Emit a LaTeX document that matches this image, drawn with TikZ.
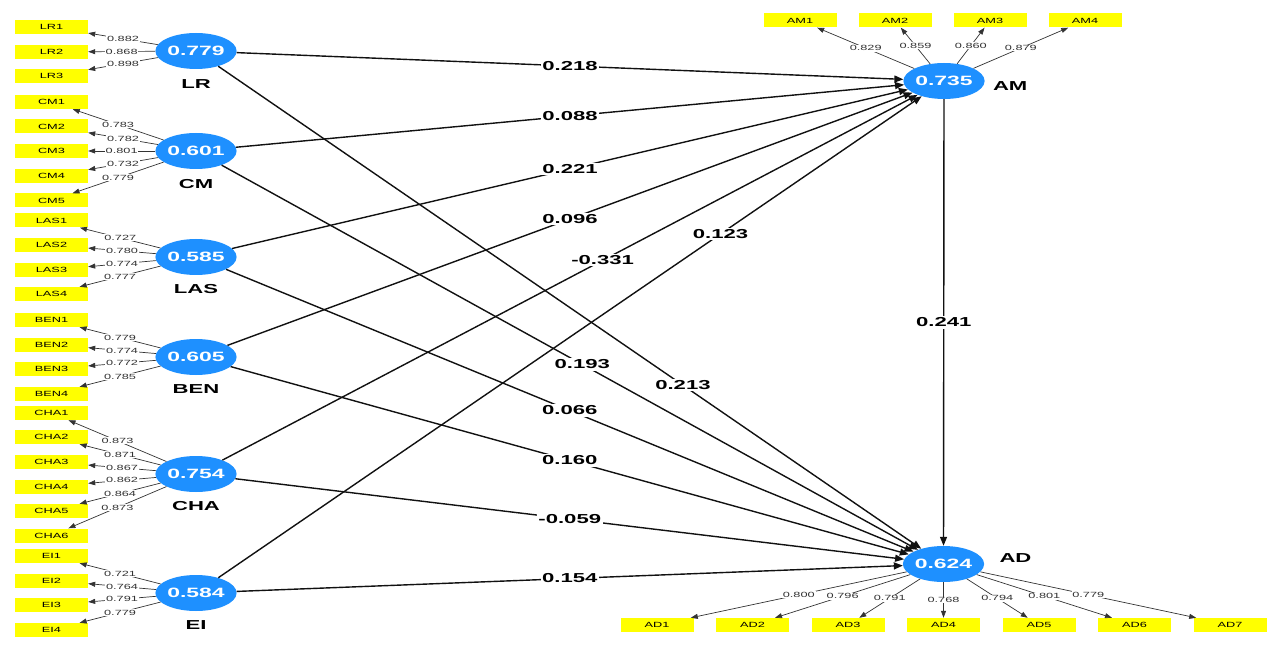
\documentclass[tikz,border=0pt]{standalone}
\usepackage{fontspec}
\usepackage{tikz}
\usetikzlibrary{arrows.meta,positioning,shapes.geometric}
\newfontfamily\plsfont[FakeStretch=1.7]{Liberation Sans}
\definecolor{ink}{HTML}{111111}
\definecolor{sub}{HTML}{333333}
\definecolor{lv}{HTML}{1E90FF}
\definecolor{mv}{HTML}{FFFF00}
\tikzset{
  lat/.style={ellipse, fill=lv, minimum width=73pt, minimum height=36pt, inner sep=0pt,
              text=white, font=\plsfont\bfseries\fontsize{13.5}{13.5}\selectfont},
  ind/.style={fill=mv, minimum width=73pt, minimum height=14pt, inner sep=0pt,
              text=black, font=\plsfont\fontsize{7.5}{7.5}\selectfont},
  lname/.style={inner sep=0pt, text=black, font=\plsfont\bfseries\fontsize{13}{13}\selectfont},
  pth/.style={-{Triangle[length=9pt,width=7pt]}, line width=1.4pt, draw=ink},
  ldg/.style={-{Triangle[length=7pt,width=5pt]}, line width=0.7pt, draw=sub},
  coef/.style={fill=white, inner sep=1.5pt, text=black,
               font=\plsfont\bfseries\fontsize{13}{13}\selectfont},
  ldval/.style={fill=white, inner sep=0.8pt, text=sub,
                font=\plsfont\fontsize{7.5}{7.5}\selectfont},
}

\begin{document}
\begin{tikzpicture}[x=1pt,y=-1pt]
    \useasboundingbox (0,0) rectangle (1285,652);
    % latent variables
    \node[lat] (LR) at (196,51) {0.779};
    \node[lat] (CM) at (196,151) {0.601};
    \node[lat] (LAS) at (196,257) {0.585};
    \node[lat] (BEN) at (196,357) {0.605};
    \node[lat] (CHA) at (196,474) {0.754};
    \node[lat] (EI) at (196,593) {0.584};
    \node[lat] (AM) at (944,81) {0.735};
    \node[lat] (AD) at (943.5,564) {0.624};
    \node[lname, below=10pt of LR] (LRn) {LR};
    \node[lname, below=10pt of CM] (CMn) {CM};
    \node[lname, below=9pt of LAS] (LASn) {LAS};
    \node[lname, below=9pt of BEN] (BENn) {BEN};
    \node[lname, below=9pt of CHA] (CHAn) {CHA};
    \node[lname, below=9pt of EI] (EIn) {EI};
    \node[lname, right=8pt of AM, yshift=-5pt] (AMn) {AM};
    \node[lname, right=15pt of AD, yshift=6pt] (ADn) {AD};

    % indicators
    \node[ind] (LR1) at (51.5,27) {LR1};
    \node[ind] (LR2) at (51.5,52) {LR2};
    \node[ind] (LR3) at (51.5,76) {LR3};
    \node[ind] (CM1) at (51.5,102) {CM1};
    \node[ind] (CM2) at (51.5,126.5) {CM2};
    \node[ind] (CM3) at (51.5,151) {CM3};
    \node[ind] (CM4) at (51.5,176) {CM4};
    \node[ind] (CM5) at (51.5,200.5) {CM5};
    \node[ind] (LAS1) at (51.5,220.5) {LAS1};
    \node[ind] (LAS2) at (51.5,245) {LAS2};
    \node[ind] (LAS3) at (51.5,270) {LAS3};
    \node[ind] (LAS4) at (51.5,294) {LAS4};
    \node[ind] (BEN1) at (51.5,320) {BEN1};
    \node[ind] (BEN2) at (51.5,344.5) {BEN2};
    \node[ind] (BEN3) at (51.5,369) {BEN3};
    \node[ind] (BEN4) at (51.5,394) {BEN4};
    \node[ind] (CHA1) at (51.5,413) {CHA1};
    \node[ind] (CHA2) at (51.5,437) {CHA2};
    \node[ind] (CHA3) at (51.5,462) {CHA3};
    \node[ind] (CHA4) at (51.5,486.5) {CHA4};
    \node[ind] (CHA5) at (51.5,511) {CHA5};
    \node[ind] (CHA6) at (51.5,535.5) {CHA6};
    \node[ind] (EI1) at (51.5,556) {EI1};
    \node[ind] (EI2) at (51.5,580.5) {EI2};
    \node[ind] (EI3) at (51.5,605) {EI3};
    \node[ind] (EI4) at (51.5,630) {EI4};
    \node[ind] (AM1) at (800,20.5) {AM1};
    \node[ind] (AM2) at (895,20.5) {AM2};
    \node[ind] (AM3) at (990,20.5) {AM3};
    \node[ind] (AM4) at (1085,20.5) {AM4};
    \node[ind] (AD1) at (657,625) {AD1};
    \node[ind] (AD2) at (752.5,625) {AD2};
    \node[ind] (AD3) at (848,625) {AD3};
    \node[ind] (AD4) at (943.5,625) {AD4};
    \node[ind] (AD5) at (1039,625) {AD5};
    \node[ind] (AD6) at (1134.5,625) {AD6};
    \node[ind] (AD7) at (1230,625) {AD7};

    % structural paths
    \draw[pth] (LR) -- node[coef] {0.218} (AM);
    \draw[pth] (CM) -- node[coef] {0.088} (AM);
    \draw[pth] (LAS) -- node[coef] {0.221} (AM);
    \draw[pth] (BEN) -- node[coef] {0.096} (AM);
    \draw[pth] (CHA) -- node[coef, pos=0.547] {-0.331} (AM);
    \draw[pth] (EI) -- node[coef, pos=0.714] {0.123} (AM);
    \draw[pth] (LR) -- node[coef, pos=0.661] {0.213} (AD);
    \draw[pth] (CM) -- node[coef, pos=0.518] {0.193} (AD);
    \draw[pth] (LAS) -- node[coef] {0.066} (AD);
    \draw[pth] (BEN) -- node[coef] {0.160} (AD);
    \draw[pth] (CHA) -- node[coef] {-0.059} (AD);
    \draw[pth] (EI) -- node[coef] {0.154} (AD);
    \draw[pth] (AM) -- node[coef] {0.241} (AD);

    % outer loadings
    \draw[ldg] (LR) -- node[ldval] {0.882} (LR1);
    \draw[ldg] (LR) -- node[ldval] {0.868} (LR2);
    \draw[ldg] (LR) -- node[ldval] {0.898} (LR3);
    \draw[ldg] (CM) -- node[ldval] {0.783} (CM1);
    \draw[ldg] (CM) -- node[ldval] {0.782} (CM2);
    \draw[ldg] (CM) -- node[ldval] {0.801} (CM3);
    \draw[ldg] (CM) -- node[ldval] {0.732} (CM4);
    \draw[ldg] (CM) -- node[ldval] {0.779} (CM5);
    \draw[ldg] (LAS) -- node[ldval] {0.727} (LAS1);
    \draw[ldg] (LAS) -- node[ldval] {0.780} (LAS2);
    \draw[ldg] (LAS) -- node[ldval] {0.774} (LAS3);
    \draw[ldg] (LAS) -- node[ldval] {0.777} (LAS4);
    \draw[ldg] (BEN) -- node[ldval] {0.779} (BEN1);
    \draw[ldg] (BEN) -- node[ldval] {0.774} (BEN2);
    \draw[ldg] (BEN) -- node[ldval] {0.772} (BEN3);
    \draw[ldg] (BEN) -- node[ldval] {0.785} (BEN4);
    \draw[ldg] (CHA) -- node[ldval] {0.873} (CHA1);
    \draw[ldg] (CHA) -- node[ldval] {0.871} (CHA2);
    \draw[ldg] (CHA) -- node[ldval] {0.867} (CHA3);
    \draw[ldg] (CHA) -- node[ldval] {0.862} (CHA4);
    \draw[ldg] (CHA) -- node[ldval] {0.864} (CHA5);
    \draw[ldg] (CHA) -- node[ldval] {0.873} (CHA6);
    \draw[ldg] (EI) -- node[ldval] {0.721} (EI1);
    \draw[ldg] (EI) -- node[ldval] {0.764} (EI2);
    \draw[ldg] (EI) -- node[ldval] {0.791} (EI3);
    \draw[ldg] (EI) -- node[ldval] {0.779} (EI4);
    \draw[ldg] (AM) -- node[ldval] {0.829} (AM1);
    \draw[ldg] (AM) -- node[ldval] {0.859} (AM2);
    \draw[ldg] (AM) -- node[ldval] {0.860} (AM3);
    \draw[ldg] (AM) -- node[ldval] {0.879} (AM4);
    \draw[ldg] (AD) -- node[ldval] {0.800} (AD1);
    \draw[ldg] (AD) -- node[ldval] {0.796} (AD2);
    \draw[ldg] (AD) -- node[ldval] {0.791} (AD3);
    \draw[ldg] (AD) -- node[ldval] {0.768} (AD4);
    \draw[ldg] (AD) -- node[ldval] {0.794} (AD5);
    \draw[ldg] (AD) -- node[ldval] {0.801} (AD6);
    \draw[ldg] (AD) -- node[ldval] {0.779} (AD7);
  \end{tikzpicture}
\end{document}
